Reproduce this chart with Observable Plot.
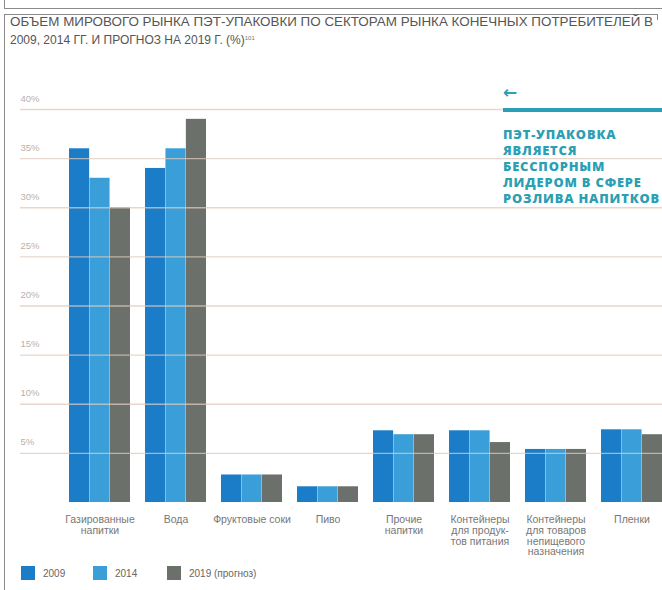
<!DOCTYPE html>
<html><head><meta charset="utf-8">
<script src="https://cdn.jsdelivr.net/npm/d3@7"></script>
<script src="https://cdn.jsdelivr.net/npm/@observablehq/plot@0.6"></script>
<style>
html,body{margin:0;padding:0;}
body{width:662px;height:590px;overflow:hidden;position:relative;background:#fff;font-family:"Liberation Sans","DejaVu Sans Condensed",sans-serif;}
.bx{position:absolute;background:#8a8a8a;}
#title{position:absolute;left:10px;top:13px;font-size:12px;line-height:18px;color:#555;white-space:nowrap;}
#title div{transform-origin:0 0;display:inline-block;}
#title sup{font-size:6px;vertical-align:top;position:relative;top:-2px;color:#777;}
#chart{position:absolute;left:0;top:60px;width:711px;}
#chart svg{max-width:none !important;}
#note{position:absolute;left:503px;top:82px;width:200px;color:#2b9fb3;font-family:"Open Sans","DejaVu Sans",sans-serif;}
#note .arr{font-size:17px;font-weight:bold;line-height:20px;font-family:"DejaVu Sans",sans-serif;}
#note .bar{height:4px;background:#2b9fb3;margin-top:6px;width:200px;}
#note .txt{margin-top:15px;font-size:12.5px;font-weight:800;line-height:16px;letter-spacing:0.8px;white-space:nowrap;transform-origin:0 0;}
#note .txt span{display:inline-block;}
#legend{position:absolute;left:21px;top:566px;font-size:10px;color:#666;}
.li{position:absolute;top:0;white-space:nowrap;}
.sw{display:inline-block;width:14px;height:14px;vertical-align:middle;margin-right:8px;}
.li span.t{vertical-align:middle;}
</style></head><body>
<div class="bx" style="left:4px;top:0;width:1px;height:9px"></div>
<div class="bx" style="left:4px;top:8px;width:658px;height:1px"></div>
<div class="bx" style="left:4px;top:14px;width:654px;height:1px"></div>
<div class="bx" style="left:4px;top:14px;width:1px;height:576px"></div>
<div class="bx" style="left:657px;top:14px;width:1px;height:6px"></div>
<div id="title"><div id="t1">ОБЪЕМ МИРОВОГО РЫНКА ПЭТ-УПАКОВКИ ПО СЕКТОРАМ РЫНКА КОНЕЧНЫХ ПОТРЕБИТЕЛЕЙ В</div><br><div id="t2">2009, 2014 ГГ. И ПРОГНОЗ НА 2019 Г. (%)<sup>101</sup></div></div>
<div id="chart"></div>
<div id="note"><div class="arr">←</div><div class="bar"></div><div class="txt" id="ntxt"><span id="n1">ПЭТ-УПАКОВКА</span><br><span>ЯВЛЯЕТСЯ</span><br><span>БЕССПОРНЫМ</span><br><span id="n4">ЛИДЕРОМ В СФЕРЕ</span><br><span id="n5">РОЗЛИВА НАПИТКОВ</span></div></div>
<div id="legend"></div>
<script>
const categories = ["Газированные\nнапитки", "Вода", "Фруктовые соки", "Пиво", "Прочие\nнапитки", "Контейнеры\nдля продук-\nтов питания", "Контейнеры\nдля товаров\nнепищевого\nназначения", "Пленки"];
const years = ["2009", "2014", "2019"];
const yearLabels = ["2009", "2014", "2019 (прогноз)"];
const v2009 = [36, 34, 2.8, 1.6, 7.3, 7.3, 5.4, 7.4];
const v2014 = [33, 36, 2.8, 1.6, 6.9, 7.3, 5.4, 7.4];
const v2019 = [30, 39, 2.8, 1.6, 6.9, 6.1, 5.4, 6.9];
const yTicks = [5, 10, 15, 20, 25, 30, 35, 40];
const colors = ["#1b7cc8", "#3a9fd9", "#6b706b"];

const series = [v2009, v2014, v2019];
const rows = categories.flatMap((c, i) => years.map((y, k) => ({cat: c, year: y, v: series[k][i]})));

const W = 711, ML = 20, PI = 0.2, PO = 0.61;
const step = (W - ML) / (categories.length - PI + 2 * PO);
const third = step * (1 - PI) / 3;

const bars = years.map((y, k) => Plot.barY(rows.filter(d => d.year === y), {
  x: "cat", y: "v", fill: "year",
  insetLeft: k * third, insetRight: (2 - k) * third
}));

const chart = Plot.plot({
  width: W, height: 500,
  marginLeft: ML, marginRight: 0, marginTop: 49, marginBottom: 58,
  style: {fontFamily: '"Liberation Sans","DejaVu Sans Condensed",sans-serif', background: "transparent", maxWidth: "none"},
  x: {domain: categories, paddingInner: PI, paddingOuter: PO, axis: null, label: null},
  y: {domain: [0, 40], axis: null, label: null},
  color: {domain: years, range: colors},
  marks: [
    ...bars,
    Plot.ruleY(yTicks, {stroke: "#dcc9bd", strokeOpacity: 0.75, strokeWidth: 1.3}),
    Plot.axisY(yTicks, {anchor: "left", label: null, tickSize: 0, tickPadding: 0, textAnchor: "start", dy: -11,
      tickFormat: d => d + "%", fill: "#bcb0a8", fontSize: 9.5}),
    Plot.axisX({anchor: "bottom", label: null, tickSize: 0, tickPadding: 13, fill: "#777", fontSize: 10.5, lineHeight: 1.02})
  ]
});
chart.style.maxWidth = "none";
document.getElementById("chart").appendChild(chart);

function fitScale(id, w) {
  const el = document.getElementById(id);
  const cur = el.getBoundingClientRect().width;
  return cur > 0 ? w / cur : 1;
}
const s1 = fitScale("t1", 643);
document.getElementById("t1").style.transform = `scaleX(${s1})`;
document.getElementById("t2").style.transform = `scaleX(${Math.min(1, s1)})`;
const sn = Math.min(fitScale("n1", 144), fitScale("n4", 148), fitScale("n5", 157));
document.getElementById("ntxt").style.transform = `scaleX(${sn})`;

const lx = [0, 72, 146];
const leg = document.getElementById("legend");
years.forEach((y, k) => {
  const d = document.createElement("div");
  d.className = "li";
  d.style.left = lx[k] + "px";
  d.innerHTML = `<span class="sw" style="background:${colors[k]}"></span><span class="t">${yearLabels[k]}</span>`;
  leg.appendChild(d);
});
</script>
</body></html>
